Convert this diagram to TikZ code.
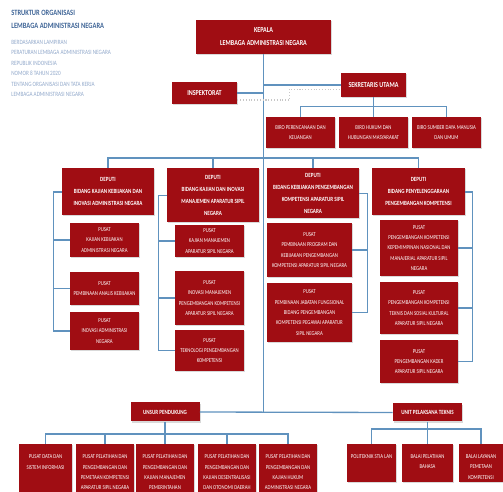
\documentclass[tikz,border=0pt]{standalone}
\usepackage{fontspec}
\setmainfont{Carlito}[FakeStretch=0.8]
\usetikzlibrary{shadows}

\definecolor{lanred}{RGB}{160,13,19}
\definecolor{lanline}{RGB}{96,146,190}
\definecolor{lanhead}{RGB}{62,100,150}
\definecolor{lansub}{RGB}{145,168,202}

\begin{document}
\begin{tikzpicture}[x=0.2mm, y=-0.2mm,
    unit/.style={fill=lanred, text=white, align=center, inner sep=0.5pt,
        drop shadow={opacity=0.3, shadow xshift=0.6pt, shadow yshift=-0.6pt}},
    sz/.style 2 args={minimum width=#1*0.2mm, minimum height=#2*0.2mm},
    big/.style={font=\fontsize{4.3}{7.4}\selectfont\bfseries},
    dep/.style={font=\fontsize{3.6}{6.8}\selectfont\bfseries},
    small/.style={font=\fontsize{3.4}{5.9}\selectfont},
    toptext/.style={anchor=north, text=white, align=center, small, yshift=-2.6pt},
    link/.style={draw=lanline, line width=0.75pt},
    coord/.style={draw=black!22, line width=0.6pt, densely dotted},
    head/.style={anchor=west, inner sep=0pt, text=lanhead, font=\fontsize{4.6}{6}\selectfont\bfseries},
    subhead/.style={anchor=west, inner sep=0pt, text=lansub, font=\fontsize{3.7}{5}\selectfont}]
    \useasboundingbox (0,0) rectangle (503,492);

    % Title
    \node[head] (judul1) at (11,13) {STRUKTUR ORGANISASI};
    \node[head] (judul2) at (11,26) {LEMBAGA ADMINISTRASI NEGARA};
    \node[subhead] (dasar1) at (11,42) {BERDASARKAN LAMPIRAN};
    \node[subhead] (dasar2) at (11,52.5) {PERATURAN LEMBAGA ADMINISTRASI NEGARA};
    \node[subhead] (dasar3) at (11,63) {REPUBLIK INDONESIA};
    \node[subhead] (dasar4) at (11,73.5) {NOMOR 8 TAHUN 2020};
    \node[subhead] (dasar5) at (11,84) {TENTANG ORGANISASI DAN TATA KERJA};
    \node[subhead] (dasar6) at (11,94.5) {LEMBAGA ADMINISTRASI NEGARA};

    % Pimpinan
    \node[unit, big, sz={135}{34}] (kepala) at (263.5,37) {KEPALA\\LEMBAGA ADMINISTRASI NEGARA};
    \node[unit, big, sz={65}{22}] (inspek) at (204.5,93) {INSPEKTORAT};
    \node[unit, big, sz={65}{24}] (sekut) at (373.5,85) {SEKRETARIS UTAMA};
    \node[unit, small, sz={69}{31}] (biro1) at (300.5,132.5) {BIRO PERENCANAAN DAN\\KEUANGAN};
    \node[unit, small, sz={69}{31}] (biro2) at (373.5,132.5) {BIRO HUKUM DAN\\HUBUNGAN MASYARAKAT};
    \node[unit, small, sz={69}{31}] (biro3) at (446.5,132.5) {BIRO SUMBER DAYA MANUSIA\\DAN UMUM};

    % Deputi
    \node[unit, dep, sz={92}{47}, anchor=north] (dep1) at (108,168) {DEPUTI\\BIDANG KAJIAN KEBIJAKAN DAN\\INOVASI ADMINISTRASI NEGARA};
    \node[unit, dep, sz={92}{54}, anchor=north] (dep2) at (213,168) {DEPUTI\\BIDANG KAJIAN DAN INOVASI\\MANAJEMEN APARATUR SIPIL\\NEGARA};
    \node[unit, dep, sz={92}{50}, anchor=north] (dep3) at (313,168) {DEPUTI\\BIDANG KEBIJAKAN PENGEMBANGAN\\KOMPETENSI APARATUR SIPIL\\NEGARA};
    \node[unit, dep, sz={93}{47}, anchor=north] (dep4) at (418.5,168) {DEPUTI\\BIDANG PENYELENGGARAAN\\PENGEMBANGAN KOMPETENSI};

    % Pusat
    \node[unit, small, sz={69}{34}] (p11) at (104.5,240) {PUSAT\\KAJIAN KEBIJAKAN\\ADMINISTRASI NEGARA};
    \node[unit, small, sz={69}{33}] (p12) at (104.5,288.5) {PUSAT\\PEMBINAAN ANALIS KEBIJAKAN};
    \node[unit, small, sz={69}{38}] (p13) at (104.5,331) {PUSAT\\INOVASI ADMINISTRASI\\NEGARA};
    \node[unit, small, sz={69}{32}] (p21) at (209.5,241) {PUSAT\\KAJIAN MANAJEMEN\\APARATUR SIPIL NEGARA};
    \node[unit, small, sz={69}{54}] (p22) at (209.5,298) {PUSAT\\INOVASI MANAJEMEN\\PENGEMBANGAN KOMPETENSI\\APARATUR SIPIL NEGARA};
    \node[unit, small, sz={69}{41}] (p23) at (209.5,350.5) {PUSAT\\TEKNOLOGI PENGEMBANGAN\\KOMPETENSI};
    \node[unit, small, sz={85}{54}] (p31) at (309.5,250) {PUSAT\\PEMBINAAN PROGRAM DAN\\KEBIJAKAN PENGEMBANGAN\\KOMPETENSI APARATUR SIPIL NEGARA};
    \node[unit, small, sz={85}{59}] (p32) at (309.5,312.5) {PUSAT\\PEMBINAAN JABATAN FUNGSIONAL\\BIDANG PENGEMBANGAN\\KOMPETENSI PEGAWAI APARATUR\\SIPIL NEGARA};
    \node[unit, small, sz={78}{56}] (p41) at (419,248) {PUSAT\\PENGEMBANGAN KOMPETENSI\\KEPEMIMPINAN NASIONAL DAN\\MANAJERIAL APARATUR SIPIL\\NEGARA};
    \node[unit, small, sz={78}{52}] (p42) at (419,308) {PUSAT\\PENGEMBANGAN KOMPETENSI\\TEKNIS DAN SOSIAL KULTURAL\\APARATUR SIPIL NEGARA};
    \node[unit, small, sz={78}{43}] (p43) at (419,361.5) {PUSAT\\PENGEMBANGAN KADER\\APARATUR SIPIL NEGARA};

    % Unsur pendukung dan UPT
    \node[unit, dep, sz={69}{19}] (unsur) at (165,412) {UNSUR PENDUKUNG};
    \node[unit, dep, sz={69}{18}] (upt) at (427.5,412.5) {UNIT PELAKSANA TEKNIS};
    \node[unit, sz={53}{52}, anchor=north, label={[toptext]north:PUSAT DATA DAN\\SISTEM INFORMASI}] (u1) at (45.5,444) {};
    \node[unit, sz={58}{52}, anchor=north, label={[toptext]north:PUSAT PELATIHAN DAN\\PENGEMBANGAN DAN\\PEMETAAN KOMPETENSI\\APARATUR SIPIL NEGARA}] (u2) at (105,444) {};
    \node[unit, sz={58}{52}, anchor=north, label={[toptext]north:PUSAT PELATIHAN DAN\\PENGEMBANGAN DAN\\KAJIAN MANAJEMEN\\PEMERINTAHAN}] (u3) at (165,444) {};
    \node[unit, sz={58}{52}, anchor=north, label={[toptext]north:PUSAT PELATIHAN DAN\\PENGEMBANGAN DAN\\KAJIAN DESENTRALISASI\\DAN OTONOMI DAERAH}] (u4) at (227,444) {};
    \node[unit, sz={58}{52}, anchor=north, label={[toptext]north:PUSAT PELATIHAN DAN\\PENGEMBANGAN DAN\\KAJIAN HUKUM\\ADMINISTRASI NEGARA}] (u5) at (288,444) {};
    \node[unit, sz={49}{38}, anchor=north, label={[toptext]north:POLITEKNIK STIA LAN}] (t1) at (371.5,444) {};
    \node[unit, sz={51}{38}, anchor=north, label={[toptext]north:BALAI PELATIHAN\\BAHASA}] (t2) at (427.5,444) {};
    \node[unit, sz={44}{38}, anchor=north, label={[toptext]north:BALAI LAYANAN\\PEMETAAN\\KOMPETENSI}] (t3) at (481,444) {};

    % Garis komando
    \draw[link] (kepala.south) -- (kepala.south |- unsur.east);
    \draw[link] (inspek.east) -- (inspek.east -| kepala.south);
    \draw[link] (kepala.south |- sekut.west) -- (sekut.west);
    \draw[coord] ([yshift=-4pt]inspek.east) -- ++(52,0) |- ([yshift=-2.3pt]sekut.west);
    \draw[link] (sekut.south) -- (biro2.north);
    \draw[link] (biro1.north) -- ++(0,-10) -| (biro3.north);
    \draw[link] (dep1.north) -- ++(0,-10) -| (dep4.north);
    \draw[link] (dep2.north) -- ++(0,-10);
    \draw[link] (dep3.north) -- ++(0,-10);

    % Garis pusat
    \draw[link] (dep1.west) -- ++(-8,0) |- (p13.west);
    \draw[link] (p11.west) -- ++(-16,0);
    \draw[link] (p12.west) -- ++(-16,0);
    \draw[link] (dep2.west) -- ++(-8,0) |- (p23.west);
    \draw[link] (p21.west) -- ++(-16,0);
    \draw[link] (p22.west) -- ++(-16,0);
    \draw[link] (dep3.east) -- ++(8,0) |- (p32.east);
    \draw[link] (p31.east) -- ++(15,0);
    \draw[link] (dep4.east) -- ++(7,0) |- (p43.east);
    \draw[link] (p41.east) -- ++(14,0);
    \draw[link] (p42.east) -- ++(14,0);

    % Garis unsur pendukung dan UPT
    \draw[link] (unsur.east) -- (upt.west);
    \draw[link] (unsur.south) -- (u3.north);
    \draw[link] (u1.north) -- ++(0,-10) -| (u5.north);
    \draw[link] (u2.north) -- ++(0,-10);
    \draw[link] (u4.north) -- ++(0,-10);
    \draw[link] (upt.south) -- (t2.north);
    \draw[link] (t1.north) -- ++(0,-15) -| (t3.north);
\end{tikzpicture}
\end{document}
